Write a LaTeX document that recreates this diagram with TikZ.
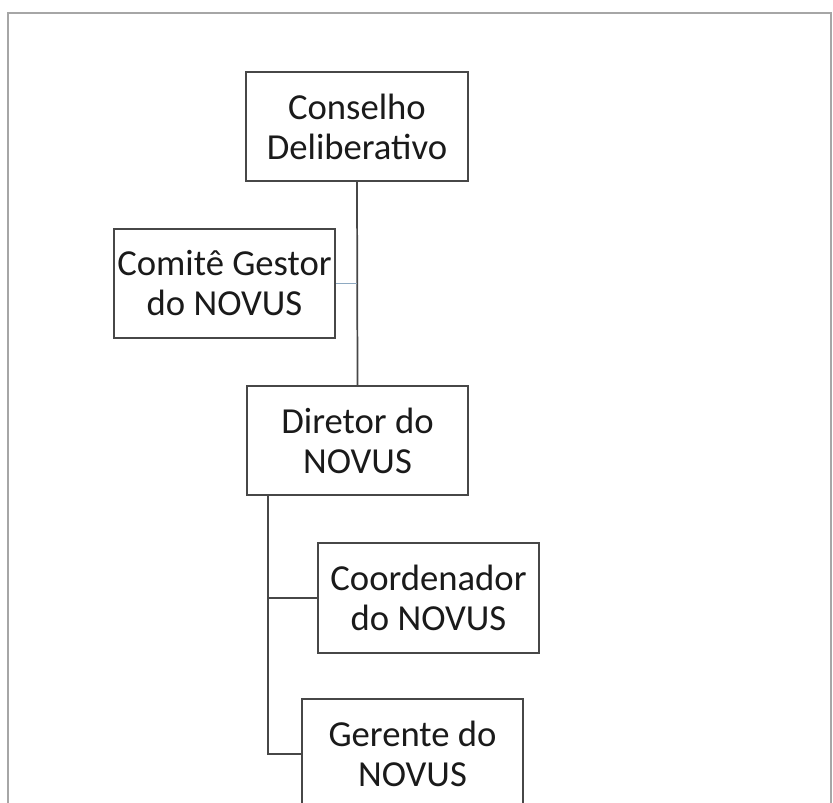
\documentclass[tikz,border=0pt]{standalone}
\usepackage{fontspec}
\setmainfont{Carlito}
\usepackage{xcolor}
\usepackage{tikz}
\usetikzlibrary{positioning}

\definecolor{boxline}{HTML}{474747}
\definecolor{frameline}{HTML}{A6A6A6}
\definecolor{sideline}{HTML}{8EA9C1}
\definecolor{boxtext}{HTML}{1A1A1A}

\tikzset{
  orgbox/.style={draw=boxline, line width=1.3pt, fill=white, text=boxtext,
    minimum width=166pt, minimum height=82pt, inner sep=0pt,
    align=center, font=\fontsize{27.5}{30}\selectfont},
  orgline/.style={draw=boxline, line width=1.3pt}
}

\begin{document}
\begin{tikzpicture}[x=0.75pt,y=-0.75pt]
  \useasboundingbox (0,0) rectangle (833,803);
  \clip (0,0) rectangle (833,803);
  \draw[frameline, line width=1.5pt] (8,806) -- (8,13) -- (831,13) -- (831,806);

  \node[orgbox] (cd) at (357,126.5) {Conselho\\Deliberativo};
  \node[orgbox] (cg) at (224.5,283.5) {Comitê Gestor\\do NOVUS};
  \node[orgbox] (dir) at (357.5,440.5) {Diretor do\\NOVUS};
  \node[orgbox] (coord) at (428.5,598) {Coordenador\\do NOVUS};
  \node[orgbox] (ger) at (412.5,754) {Gerente do\\NOVUS};

  \draw[orgline] (cd.south) -- (dir.north);
  \draw[sideline, line width=1.3pt] (cg.east) -- (cg.east -| cd.south);

  \coordinate (trunk) at (268,495);
  \draw[orgline] (trunk) |- (ger.west);
  \draw[orgline] (trunk |- coord.west) -- (coord.west);
\end{tikzpicture}
\end{document}
